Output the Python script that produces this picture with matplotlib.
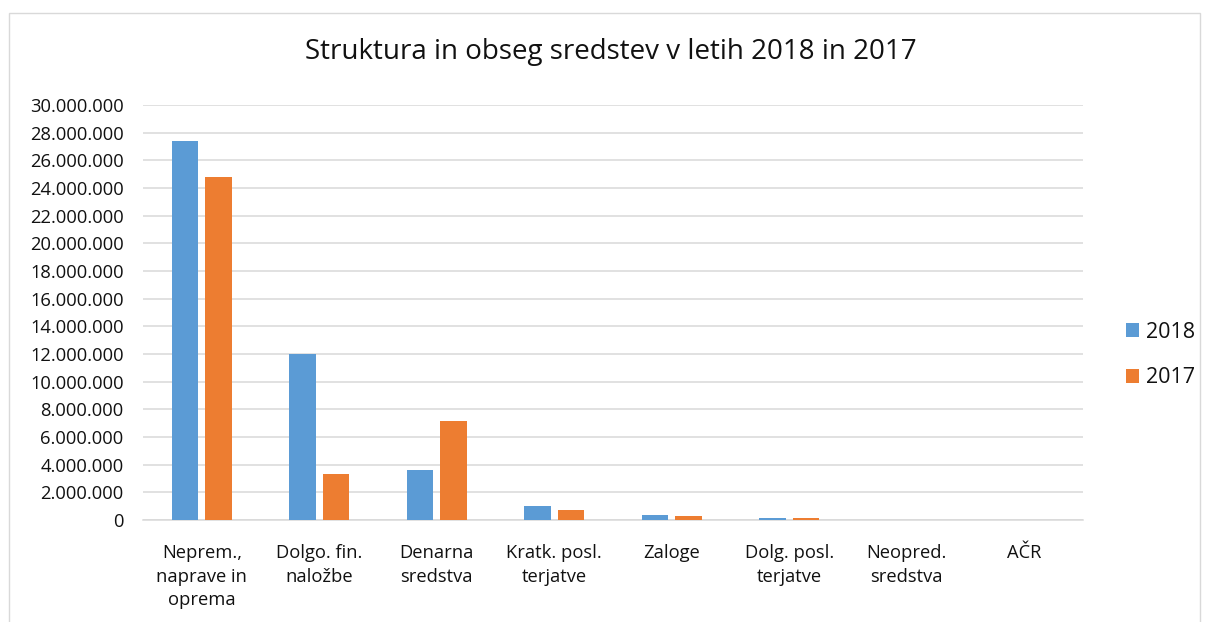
import numpy as np
import matplotlib.pyplot as plt
from matplotlib.patches import Rectangle
from matplotlib.ticker import FuncFormatter

plt.rcParams["font.family"] = ["Open Sans", "DejaVu Sans"]

# ── data ────────────────────────────────────────────────────────────────
categories = ["Neprem.,\nnaprave in\noprema", "Dolgo. fin.\nnaložbe", "Denarna\nsredstva",
              "Kratk. posl.\nterjatve", "Zaloge", "Dolg. posl.\nterjatve",
              "Neopred.\nsredstva", "AČR"]
values_2018 = [27_400_000, 12_000_000, 3_630_000, 980_000, 340_000, 170_000, 10_000, 3_000]
values_2017 = [24_810_000, 3_340_000, 7_190_000, 710_000, 320_000, 130_000, 8_000, 2_000]
series_labels = ["2018", "2017"]
title = "Struktura in obseg sredstev v letih 2018 in 2017"

BLUE, ORANGE = "#5b9bd5", "#ed7d31"
GRID = "#d9d9d9"
TXT = "#111111"

fig = plt.figure(figsize=(12.08, 6.22), dpi=100)
W, H = 1208, 622

# chart frame (Excel-like border)
fig.patches.append(Rectangle((9 / W, -0.05), (1200 - 9) / W, 1.05 - 13 / H,
                             transform=fig.transFigure, fill=False,
                             edgecolor=GRID, lw=1.0))

ax = fig.add_axes([143 / W, 1 - 520 / H, (1083 - 143) / W, (520 - 105) / H])

x = np.arange(len(categories))
bw = 0.226
off = bw / 2 + 0.03
ax.bar(x - off, values_2018, bw, color=BLUE, label=series_labels[0], zorder=3)
ax.bar(x + off, values_2017, bw, color=ORANGE, label=series_labels[1], zorder=3)

ax.set_xlim(-0.5, len(categories) - 0.5)
ax.set_ylim(0, 30_000_000)
ax.set_yticks(np.arange(0, 30_000_001, 2_000_000))
ax.yaxis.set_major_formatter(FuncFormatter(lambda v, p: f"{int(v):,}".replace(",", ".")))
ax.grid(axis="y", color=GRID, lw=1.1, zorder=0)
ax.set_axisbelow(True)
for s in ["top", "right", "left"]:
    ax.spines[s].set_visible(False)
ax.spines["bottom"].set_color(GRID)
ax.spines["bottom"].set_linewidth(1.1)
ax.tick_params(axis="y", length=0, pad=14, labelsize=13.2, labelcolor=TXT)
ax.tick_params(axis="x", length=0, pad=17.5, labelsize=13.2, labelcolor=TXT)
ax.set_xticks(x)
ax.set_xticklabels(categories, linespacing=1.38)

fig.text(611 / W, 1 - 52 / H, title, ha="center", va="center", fontsize=20, color=TXT)

fig.legend(loc="center left", bbox_to_anchor=(1107 / W, 1 - 355 / H), frameon=False,
           fontsize=15.5, handlelength=0.6, handleheight=0.6, handletextpad=0.3,
           labelspacing=1.15, labelcolor=TXT)

fig.savefig("out.png", dpi=100)
